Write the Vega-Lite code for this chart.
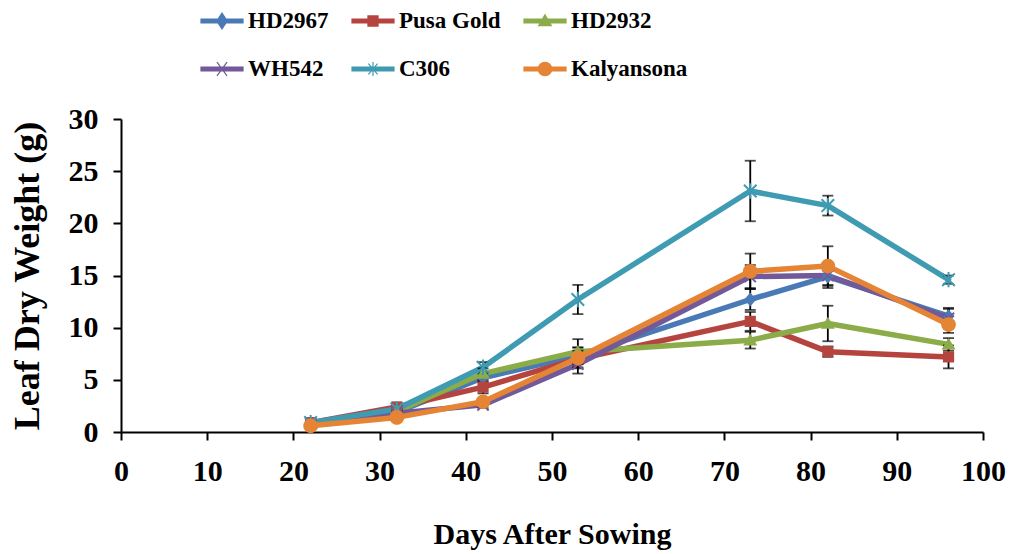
{
  "$schema": "https://vega.github.io/schema/vega-lite/v6.json",
  "width": 862,
  "height": 313,
  "autosize": {"type": "none"},
  "padding": {"left": 121, "top": 119, "right": 33, "bottom": 122},
  "background": "white",
  "config": {
    "view": {"stroke": null},
    "font": "Liberation Serif",
    "axis": {
      "grid": false,
      "domainColor": "black",
      "domainWidth": 2,
      "tickColor": "black",
      "tickWidth": 2,
      "tickSize": 8,
      "labelFlush": false,
      "labelFont": "Liberation Serif",
      "labelFontSize": 30,
      "labelFontWeight": "bold",
      "labelColor": "black",
      "titleFont": "Liberation Serif",
      "titleFontSize": 30,
      "titleFontWeight": "bold",
      "titleColor": "black"
    }
  },
  "data": {
    "values": [
      {"variety": "HD2967", "day": 22, "leaf": 0.8, "err": 0.1},
      {"variety": "HD2967", "day": 32, "leaf": 1.9, "err": 0.2},
      {"variety": "HD2967", "day": 42, "leaf": 5.2, "err": 0.4},
      {"variety": "HD2967", "day": 53, "leaf": 7.3, "err": 0.8},
      {"variety": "HD2967", "day": 73, "leaf": 12.7, "err": 1.0},
      {"variety": "HD2967", "day": 82, "leaf": 14.9, "err": 0.8},
      {"variety": "HD2967", "day": 96, "leaf": 11.1, "err": 0.8},
      {"variety": "Pusa Gold", "day": 22, "leaf": 0.9, "err": 0.1},
      {"variety": "Pusa Gold", "day": 32, "leaf": 2.4, "err": 0.2},
      {"variety": "Pusa Gold", "day": 42, "leaf": 4.3, "err": 0.6},
      {"variety": "Pusa Gold", "day": 53, "leaf": 7.0, "err": 0.8},
      {"variety": "Pusa Gold", "day": 73, "leaf": 10.6, "err": 0.9},
      {"variety": "Pusa Gold", "day": 82, "leaf": 7.7, "err": 0.5},
      {"variety": "Pusa Gold", "day": 96, "leaf": 7.2, "err": 1.1},
      {"variety": "HD2932", "day": 22, "leaf": 0.8, "err": 0.1},
      {"variety": "HD2932", "day": 32, "leaf": 2.0, "err": 0.2},
      {"variety": "HD2932", "day": 42, "leaf": 5.6, "err": 0.5},
      {"variety": "HD2932", "day": 53, "leaf": 7.7, "err": 1.2},
      {"variety": "HD2932", "day": 73, "leaf": 8.8, "err": 0.8},
      {"variety": "HD2932", "day": 82, "leaf": 10.4, "err": 1.7},
      {"variety": "HD2932", "day": 96, "leaf": 8.4, "err": 0.6},
      {"variety": "WH542", "day": 22, "leaf": 0.8, "err": 0.1},
      {"variety": "WH542", "day": 32, "leaf": 1.8, "err": 0.2},
      {"variety": "WH542", "day": 42, "leaf": 2.6, "err": 0.3},
      {"variety": "WH542", "day": 53, "leaf": 6.5, "err": 0.9},
      {"variety": "WH542", "day": 73, "leaf": 14.9, "err": 1.1},
      {"variety": "WH542", "day": 82, "leaf": 15.0, "err": 1.2},
      {"variety": "WH542", "day": 96, "leaf": 10.9, "err": 0.9},
      {"variety": "C306", "day": 22, "leaf": 0.9, "err": 0.2},
      {"variety": "C306", "day": 32, "leaf": 2.2, "err": 0.3},
      {"variety": "C306", "day": 42, "leaf": 6.2, "err": 0.5},
      {"variety": "C306", "day": 53, "leaf": 12.7, "err": 1.4},
      {"variety": "C306", "day": 73, "leaf": 23.1, "err": 2.9},
      {"variety": "C306", "day": 82, "leaf": 21.7, "err": 0.95},
      {"variety": "C306", "day": 96, "leaf": 14.6, "err": 0.4},
      {"variety": "Kalyansona", "day": 22, "leaf": 0.6, "err": 0.1},
      {"variety": "Kalyansona", "day": 32, "leaf": 1.4, "err": 0.2},
      {"variety": "Kalyansona", "day": 42, "leaf": 2.9, "err": 0.3},
      {"variety": "Kalyansona", "day": 53, "leaf": 7.1, "err": 1.0},
      {"variety": "Kalyansona", "day": 73, "leaf": 15.4, "err": 1.7},
      {"variety": "Kalyansona", "day": 82, "leaf": 15.9, "err": 1.9},
      {"variety": "Kalyansona", "day": 96, "leaf": 10.3, "err": 0.8}
    ]
  },
  "encoding": {
    "x": {
      "field": "day",
      "type": "quantitative",
      "scale": {"domain": [0, 100], "nice": false},
      "axis": {
        "title": "Days After Sowing",
        "values": [0, 10, 20, 30, 40, 50, 60, 70, 80, 90, 100],
        "labelPadding": 16,
        "titlePadding": 33
      }
    },
    "y": {
      "field": "leaf",
      "type": "quantitative",
      "scale": {"domain": [0, 30], "nice": false},
      "axis": {
        "title": "Leaf Dry Weight  (g)",
        "titleFontSize": 36,
        "values": [0, 5, 10, 15, 20, 25, 30],
        "labelPadding": 15,
        "titlePadding": 22
      }
    },
    "color": {
      "field": "variety",
      "type": "nominal",
      "sort": ["HD2967", "Pusa Gold", "HD2932", "WH542", "C306", "Kalyansona"],
      "scale": {
        "domain": ["HD2967", "Pusa Gold", "HD2932", "WH542", "C306", "Kalyansona"],
        "range": ["#4a7ab5", "#b5443f", "#8bac48", "#71599a", "#3f9bb2", "#e58435"]
      },
      "legend": null
    }
  },
  "layer": [
    {
      "mark": {"type": "line", "strokeWidth": 5.5, "strokeCap": "round", "strokeJoin": "round"},
      "encoding": {
        "color": {
          "field": "variety",
          "type": "nominal",
          "sort": ["HD2967", "Pusa Gold", "HD2932", "WH542", "C306", "Kalyansona"],
          "legend": {
            "title": null,
            "orient": "none",
            "legendX": 79,
            "legendY": -120,
            "direction": "horizontal",
            "columns": 3,
            "columnPadding": 20,
            "rowPadding": 14,
            "labelFont": "Liberation Serif",
            "labelFontSize": 23,
            "labelFontWeight": "bold",
            "labelColor": "black",
            "labelOffset": 4,
            "labelLimit": 300,
            "symbolSize": 1764,
            "encode": {
              "symbols": {
                "update": {
                  "shape": {"signal": "datum.value === 'HD2967' ? 'M-1,-0.09H1V0.09H-1Z M0,-0.38L0.25,0L0,0.38L-0.25,0Z' : datum.value === 'Pusa Gold' ? 'M-1,-0.09H1V0.09H-1Z M-0.24,-0.24H0.24V0.24H-0.24Z' : datum.value === 'HD2932' ? 'M-1,-0.09H1V0.09H-1Z M0,-0.3L0.3,0.22H-0.3Z' : datum.value === 'WH542' ? 'M-1,-0.09H1V0.09H-1Z M-0.24,-0.33L0.24,0.33M0.24,-0.33L-0.24,0.33' : datum.value === 'C306' ? 'M-1,-0.09H1V0.09H-1Z M-0.22,-0.26L0.22,0.26M0.22,-0.26L-0.22,0.26M0,-0.33V0.33' : 'M-1,-0.09H1V0.09H-1Z M-0.32,0a0.32,0.32 0 1,1 0.64,0a0.32,0.32 0 1,1 -0.64,0Z'"},
                  "fill": {"scale": "color", "field": "value"},
                  "stroke": {"scale": "color", "field": "value"},
                  "strokeWidth": {"value": 1.2},
                  "fillOpacity": {"value": 1},
                  "strokeOpacity": {"value": 1}
                }
              }
            }
          }
        }
      }
    },
    {
      "mark": {"type": "errorbar", "ticks": {"size": 11}, "color": "black", "thickness": 1.8},
      "encoding": {
        "yError": {"field": "err"},
        "color": {"value": "black"},
        "detail": {"field": "variety", "type": "nominal"}
      }
    },
    {
      "transform": [{"filter": {"field": "variety", "equal": "HD2967"}}],
      "mark": {"type": "point", "filled": true, "size": 196, "strokeWidth": 1.5, "opacity": 1, "color": "#4a7ab5", "shape": "M0,-1L0.85,0L0,1L-0.85,0Z"},
      "encoding": {"color": {"value": "#4a7ab5"}}
    },
    {
      "transform": [{"filter": {"field": "variety", "equal": "Pusa Gold"}}],
      "mark": {"type": "point", "filled": true, "size": 196, "strokeWidth": 1.5, "opacity": 1, "color": "#b5443f", "shape": "M-0.8,-0.8H0.8V0.8H-0.8Z"},
      "encoding": {"color": {"value": "#b5443f"}}
    },
    {
      "transform": [{"filter": {"field": "variety", "equal": "HD2932"}}],
      "mark": {"type": "point", "filled": true, "size": 196, "strokeWidth": 1.5, "opacity": 1, "color": "#8bac48", "shape": "M0,-0.95L1,0.75H-1Z"},
      "encoding": {"color": {"value": "#8bac48"}}
    },
    {
      "transform": [{"filter": {"field": "variety", "equal": "WH542"}}],
      "mark": {"type": "point", "filled": false, "size": 196, "strokeWidth": 2, "opacity": 1, "color": "#71599a", "shape": "M-0.8,-0.8L0.8,0.8M0.8,-0.8L-0.8,0.8"},
      "encoding": {"color": {"value": "#71599a"}}
    },
    {
      "transform": [{"filter": {"field": "variety", "equal": "C306"}}],
      "mark": {"type": "point", "filled": false, "size": 196, "strokeWidth": 2, "opacity": 1, "color": "#3f9bb2", "shape": "M-0.9,-0.9L0.9,0.9M0.9,-0.9L-0.9,0.9M0,-1.1V1.1"},
      "encoding": {"color": {"value": "#3f9bb2"}}
    },
    {
      "transform": [{"filter": {"field": "variety", "equal": "Kalyansona"}}],
      "mark": {"type": "point", "filled": true, "size": 196, "strokeWidth": 1.5, "opacity": 1, "color": "#e58435", "shape": "M-1.05,0a1.05,1.05 0 1,1 2.1,0a1.05,1.05 0 1,1 -2.1,0Z"},
      "encoding": {"color": {"value": "#e58435"}}
    }
  ]
}
